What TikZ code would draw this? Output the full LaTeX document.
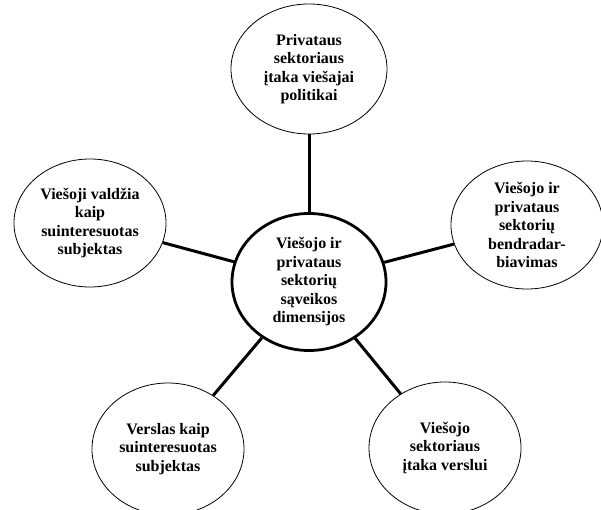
\documentclass[tikz,border=0pt]{standalone}
\usepackage{fontspec}
\setmainfont{Liberation Serif}
\usetikzlibrary{shapes.geometric}
\tikzset{
	dim/.style={ellipse, draw, line width=0.8pt, inner sep=0pt, minimum width=152pt, minimum height=128pt, align=center, font=\bfseries\fontsize{16}{18.5}\selectfont},
	hub/.style={dim, line width=2.8pt, minimum width=154pt, minimum height=137pt},
	link/.style={line width=3pt}
}

\begin{document}
\begin{tikzpicture}[x=1pt, y=-1pt]
	\useasboundingbox (0,0) rectangle (601,510);
	% centre
	\node[hub] (hub) at (309,282) {Viešojo ir\\privataus\\sektorių\\sąveikos\\dimensijos};
	% dimensions round it
	\node[dim, minimum width=156pt, minimum height=130pt] (top) at (309,69) {Privataus\\sektoriaus\\įtaka viešajai\\politikai};
	\node[dim] (left) at (90,223) {Viešoji valdžia\\kaip\\suinteresuotas\\subjektas};
	\node[dim] (right) at (527,225) {Viešojo ir\\privataus\\sektorių\\bendradar-\\biavimas};
	\node[dim, minimum height=132pt] (botleft) at (168,449) {Verslas kaip\\suinteresuotas\\subjektas};
	\node[dim, minimum height=132pt] (botright) at (445,448) {Viešojo\\sektoriaus\\įtaka verslui};
	\foreach \n in {top, left, right, botleft, botright}
		\draw[link] (hub) -- (\n);
\end{tikzpicture}
\end{document}
